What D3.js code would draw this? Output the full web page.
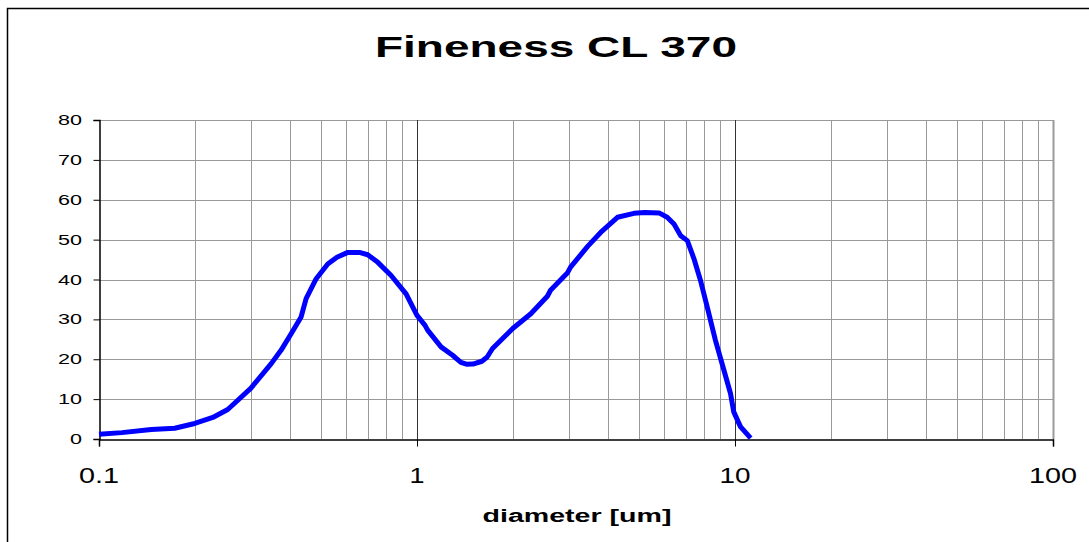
<!DOCTYPE html>
<html lang="en">
<head>
    <meta charset="UTF-8">
    <title>Fineness CL 370</title>
    <script src="https://d3js.org/d3.v7.min.js"></script>
    <style>
        body { margin: 0; background: #fff; }
        text { font-family: 'Liberation Sans', Arial, sans-serif; fill: #000; }
    </style>
</head>
<body>
    <div id="chart"></div>
    <script>
        // values
        const diameter = [0.1, 0.118, 0.146, 0.173, 0.2, 0.228, 0.254, 0.3, 0.348, 0.374, 0.402, 0.432, 0.448, 0.482, 0.524, 0.56, 0.606, 0.659, 0.7, 0.753, 0.829, 0.924, 1.0, 1.06, 1.08, 1.19, 1.294, 1.374, 1.43, 1.5, 1.6, 1.66, 1.728, 2.0, 2.28, 2.57, 2.63, 2.97, 3.04, 3.44, 3.78, 4.27, 4.81, 5.2, 5.77, 6.12, 6.43, 6.75, 7.08, 7.43, 7.79, 8.18, 8.68, 9.23, 9.68, 9.91, 10.4, 11.2];
        const fineness = [1.2, 1.6, 2.4, 2.7, 3.9, 5.4, 7.4, 12.7, 18.9, 22.3, 26.4, 30.6, 35.2, 40.2, 43.9, 45.6, 46.8, 46.8, 46.2, 44.3, 41, 36.4, 31, 28.5, 27.3, 23.1, 21, 19.2, 18.75, 18.8, 19.5, 20.5, 22.7, 27.7, 31.4, 35.8, 37.3, 41.6, 43.1, 48.3, 51.8, 55.6, 56.6, 56.8, 56.7, 55.6, 53.9, 51, 49.75, 45.2, 39.75, 33.1, 24.75, 17.25, 11.4, 6.8, 3.1, 0.2];
        const xTicks = [0.1, 1, 10, 100];
        const xTickLabels = ["0.1", "1", "10", "100"];
        const yTicks = [0, 10, 20, 30, 40, 50, 60, 70, 80];

        const W = 1089, H = 542;
        const plot = {left: 99, right: 1053, top: 120, bottom: 439};

        const svg = d3.select("#chart")
            .append("svg")
            .attr("width", W)
            .attr("height", H);

        // outer chart frame (runs off the right and bottom of the picture)
        svg.append("rect")
            .attr("x", 7.5).attr("y", 8.5)
            .attr("width", W + 20).attr("height", H + 20)
            .attr("fill", "none").attr("stroke", "#000").attr("stroke-width", 1.5);

        const x = d3.scaleLog().domain([0.1, 100]).range([plot.left, plot.right]);
        const y = d3.scaleLinear().domain([0, 80]).range([plot.bottom, plot.top]);

        // vertical grid: minor lines at 2..9 of every decade, decade lines darker
        const minor = [];
        [0.1, 1, 10].forEach(d => { for (let k = 2; k <= 9; k++) minor.push(+(d * k).toPrecision(3)); });
        svg.append("g")
            .selectAll("line")
            .data(minor)
            .join("line")
            .attr("x1", d => Math.round(x(d)) + 0.5).attr("x2", d => Math.round(x(d)) + 0.5)
            .attr("y1", plot.top).attr("y2", plot.bottom)
            .attr("stroke", "#9a9a9a").attr("stroke-width", 1);

        // horizontal grid
        svg.append("g")
            .selectAll("line")
            .data(yTicks.filter(d => d > 0))
            .join("line")
            .attr("x1", plot.left).attr("x2", plot.right)
            .attr("y1", d => Math.round(y(d)) + 0.5).attr("y2", d => Math.round(y(d)) + 0.5)
            .attr("stroke", "#9a9a9a").attr("stroke-width", 1);

        // right border of the plot area
        svg.append("line")
            .attr("x1", plot.right + 0.5).attr("x2", plot.right + 0.5)
            .attr("y1", plot.top).attr("y2", plot.bottom)
            .attr("stroke", "#9a9a9a").attr("stroke-width", 2);

        // decade lines
        svg.append("g")
            .selectAll("line")
            .data([1, 10])
            .join("line")
            .attr("x1", d => Math.round(x(d)) + 0.5).attr("x2", d => Math.round(x(d)) + 0.5)
            .attr("y1", plot.top).attr("y2", plot.bottom + 7)
            .attr("stroke", "#333").attr("stroke-width", 1);

        // axes
        const yAxis = svg.append("g")
            .attr("transform", `translate(${plot.left + 0.5},0)`)
            .call(d3.axisLeft(y).tickValues(yTicks).tickSize(6).tickFormat(""));
        const xAxis = svg.append("g")
            .attr("transform", `translate(0,${plot.bottom + 0.5})`)
            .call(d3.axisBottom(x).tickValues(xTicks).tickSize(7).tickFormat(""));
        [yAxis, xAxis].forEach(a => {
            a.select(".domain").attr("stroke", "#000").attr("stroke-width", 1.5);
            a.selectAll(".tick line").attr("stroke", "#000");
        });

        // tick labels (stretched wide, like the original)
        svg.append("g")
            .selectAll("text")
            .data(yTicks)
            .join("text")
            .attr("x", 82)
            .attr("y", d => y(d) + 5)
            .attr("text-anchor", "end")
            .style("font-size", "14px")
            .attr("textLength", d => String(d).length === 1 ? 12 : 24)
            .attr("lengthAdjust", "spacingAndGlyphs")
            .text(d => d);

        svg.append("g")
            .selectAll("text")
            .data(xTicks)
            .join("text")
            .attr("x", d => x(d))
            .attr("y", 483)
            .attr("text-anchor", "middle")
            .style("font-size", "22px")
            .attr("textLength", (d, i) => [40, 15, 31, 48][i])
            .attr("lengthAdjust", "spacingAndGlyphs")
            .text((d, i) => xTickLabels[i]);

        // titles
        svg.append("text")
            .attr("x", 556).attr("y", 57)
            .attr("text-anchor", "middle")
            .style("font-size", "30px").style("font-weight", "bold")
            .attr("textLength", 362).attr("lengthAdjust", "spacingAndGlyphs")
            .text("Fineness CL 370");

        svg.append("text")
            .attr("x", 577).attr("y", 522)
            .attr("text-anchor", "middle")
            .style("font-size", "18px").style("font-weight", "bold")
            .attr("textLength", 189).attr("lengthAdjust", "spacingAndGlyphs")
            .text("diameter [um]");

        // the curve
        const line = d3.line()
            .x(d => x(d[0]))
            .y(d => y(d[1]));
        svg.append("path")
            .datum(d3.zip(diameter, fineness))
            .attr("d", line)
            .attr("fill", "none")
            .attr("stroke", "#0000ff")
            .attr("stroke-width", 5)
            .attr("stroke-linejoin", "round")
            .attr("stroke-linecap", "butt");
    </script>
</body>
</html>
